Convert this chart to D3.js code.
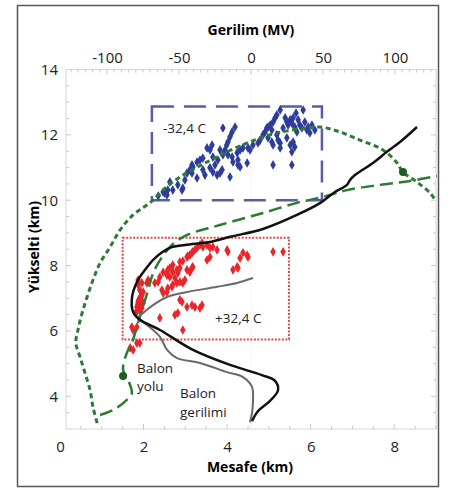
<!DOCTYPE html>
<html>
<head>
<meta charset="utf-8">
<script src="https://cdn.jsdelivr.net/npm/d3@7"></script>
<style>
  body { margin: 0; background: #fff; }
  text { font-family: "Open Sans", "Noto Sans", sans-serif; }
</style>
</head>
<body>
<div id="main"></div>
<script>
const ctx = {
    w: 457,
    h: 488,
    plot: { left: 66, right: 436, top: 69.5, bottom: 429 },
};

// tick labels
const mesafeTicks = [0, 2, 4, 6, 8];
const gerilimTicks = [-100, -50, 0, 50, 100];
const yukseltiTicks = [4, 6, 8, 10, 12, 14];

// blue sources (-32,4 C), km
const blueX = [2.51, 2.58, 2.56, 2.47, 2.35, 2.63, 2.70, 2.92, 2.94, 3.04, 3.11, 3.18, 3.16, 3.16, 3.28, 3.28, 3.35, 3.42, 3.42, 3.52,
    3.59, 3.64, 3.59, 3.66, 3.76, 3.83, 3.71, 3.88, 3.78, 3.90, 3.95, 3.99, 4.02, 4.07, 4.12, 3.90, 4.19, 4.02, 4.12, 4.24,
    4.31, 4.38, 4.07, 4.14, 4.26, 4.26, 4.31, 4.48, 4.50, 4.55, 4.62, 4.74, 4.79, 4.91, 4.95, 4.98, 5.03, 5.07, 5.10, 5.15,
    4.98, 5.07, 5.10, 5.19, 5.22, 5.27, 5.27, 5.10, 5.55, 5.19, 5.27, 5.34, 5.43, 5.46, 5.51, 5.55, 5.58, 5.62, 5.67, 5.70,
    5.74, 5.79, 5.82, 5.86, 5.91, 5.98, 5.94, 5.43, 5.51, 5.55, 5.58, 5.62, 3.66, 3.83, 3.47, 2.99, 2.82, 4.86, 5.39, 5.65,
    6.03, 6.10];
const blueY = [10.22, 10.31, 10.16, 10.25, 10.13, 10.56, 10.31, 10.31, 10.37, 10.83, 10.93, 11.02, 11.08, 10.83, 10.68, 11.17, 11.23, 11.29, 10.93, 11.60,
    11.54, 11.69, 10.99, 10.86, 10.77, 10.83, 11.08, 10.93, 11.23, 11.39, 11.54, 11.69, 11.78, 11.94, 12.09, 12.21, 12.24, 11.39, 11.32, 11.45,
    11.54, 11.60, 10.71, 11.17, 11.23, 11.08, 11.02, 11.14, 11.60, 11.54, 11.69, 11.75, 11.84, 12.09, 12.21, 12.24, 12.30, 12.15, 12.39, 12.52,
    11.91, 11.78, 11.69, 12.00, 11.84, 11.75, 11.60, 11.08, 11.08, 12.61, 12.76, 12.21, 12.39, 12.30, 12.46, 12.36, 12.52, 12.24, 12.09, 12.46,
    12.30, 12.21, 12.76, 12.39, 12.15, 12.06, 12.24, 11.91, 11.69, 11.48, 11.78, 11.63, 11.32, 11.54, 10.77, 10.62, 10.47, 12.00, 12.52, 12.67,
    12.30, 12.15];

// red sources (+32,4 C), km
const redX = [1.87, 1.91, 1.96, 1.91, 1.84, 1.89, 1.94, 1.82, 1.99, 1.87, 1.91, 1.96, 1.99, 2.08, 2.11, 2.27, 2.35, 2.39, 2.47,
    2.56, 2.58, 2.63, 2.68, 2.70, 2.44, 2.47, 2.56, 2.58, 2.68, 2.70, 2.80, 2.87, 2.94, 2.99, 2.56, 2.63, 2.70, 2.80, 2.87,
    2.75, 2.82, 2.87, 2.94, 3.04, 3.06, 3.11, 3.16, 3.18, 3.23, 3.28, 3.35, 3.40, 3.42, 3.52, 3.59, 3.66, 3.76, 3.04, 3.11,
    3.16, 3.18, 3.52, 3.59, 4.00, 4.02, 4.14, 4.24, 4.26, 4.31, 4.38, 4.48, 4.50, 5.10, 5.34, 2.87, 2.92, 3.04, 3.16, 3.23,
    3.35, 3.40, 2.39, 2.75, 2.82, 2.94, 1.75, 1.72, 1.84, 1.91, 1.75, 1.68, 1.84, 1.87, 1.96,
    1.86, 1.93, 1.89, 1.95, 1.85, 1.90, 1.97, 1.88];
const redY = [6.89, 6.79, 6.70, 6.64, 6.73, 6.95, 7.04, 6.58, 6.86, 7.41, 7.25, 7.10, 7.19, 7.47, 7.56, 7.47, 7.50, 7.65, 7.80,
    7.77, 7.87, 7.93, 7.96, 8.02, 7.25, 7.16, 7.19, 7.31, 7.35, 7.41, 7.47, 7.50, 7.47, 7.56, 7.71, 7.65, 7.80, 7.87, 7.93,
    7.62, 7.77, 8.11, 8.14, 8.26, 8.29, 8.32, 8.39, 8.42, 8.48, 8.54, 8.63, 8.69, 8.57, 8.63, 8.54, 8.57, 8.48, 7.87, 7.80,
    7.93, 7.96, 8.17, 8.26, 8.48, 8.42, 7.87, 7.96, 7.93, 8.23, 8.39, 8.32, 8.26, 8.42, 8.42, 6.95, 6.89, 6.73, 6.79, 6.73,
    6.70, 6.79, 6.40, 6.49, 6.55, 6.03, 6.03, 6.12, 6.12, 5.63, 5.42, 5.48, 5.63, 7.56, 7.47,
    6.82, 6.76, 6.67, 6.92, 6.61, 6.99, 6.83, 6.76];

// black curve: voltage (MV) vs altitude (km)
const blackMV = [115.3, 103.5, 94.4, 84.7, 72.2, 68.8, 66.7, 58.3, 47.9, 31.9, 8.3, -14.6, -28.5, -45.8, -56.3, -66.7,
    -73.6, -79.2, -82.6, -81.9, -77.1, -63.2, -40.3, -14.6, 7.6, 16.7, 18.8, 13.2, 4.9, 0.7];
const blackAlt = [12.24, 11.78, 11.48, 11.14, 10.77, 10.62, 10.47, 10.25, 9.91, 9.55, 9.12, 8.88, 8.72, 8.63, 8.54, 8.23,
    7.87, 7.50, 7.04, 6.58, 6.34, 6.03, 5.42, 4.96, 4.65, 4.47, 4.19, 3.86, 3.55, 3.24];

// grey curve: Balon gerilimi (MV) vs altitude (km)
const balonMV = [1.4, -9.7, -23.6, -44.4, -58.3, -68.1, -75.7, -78.5, -72.2, -63.2, -58.3, -51.4, -35.4, -16.7, -5.6, 0.7, 1.4, 0.7, -0.7];
const balonAlt = [7.62, 7.47, 7.35, 7.19, 7.04, 6.79, 6.52, 6.40, 6.18, 5.82, 5.42, 5.17, 5.02, 4.74, 4.59, 4.29, 3.89, 3.49, 3.21];

// outer short-dashed green curve (km)
const outerX = [0.89, 0.79, 0.72, 0.60, 0.48, 0.38, 0.43, 0.53, 0.65, 0.79, 0.96, 1.20, 1.44, 1.75, 2.15, 2.70, 3.52, 4.31,
    5.10, 5.91, 6.22, 6.63, 7.18, 7.73, 8.07, 8.21, 8.54, 8.86, 8.98];
const outerY = [3.18, 3.67, 4.19, 4.71, 5.20, 5.63, 6.03, 6.55, 7.04, 7.56, 8.08, 8.57, 9.09, 9.55, 9.92, 10.56, 11.17, 11.66,
    12.03, 12.21, 12.24, 12.12, 11.84, 11.54, 11.14, 10.86, 10.56, 10.22, 10.01];

// Balon yolu, long-dashed green (km)
const yoluX = [0.96, 1.27, 1.60, 1.72, 1.63, 1.51, 1.60, 1.72, 1.84, 1.96, 2.11, 2.23, 2.44, 2.68, 3.04, 3.66, 4.07, 4.86,
    5.67, 6.29, 6.87, 7.66, 8.38, 9.02];
const yoluY = [3.43, 3.58, 3.89, 4.10, 4.50, 4.81, 5.33, 5.63, 6.12, 6.64, 7.25, 7.77, 8.26, 8.63, 8.94, 9.18, 9.33, 9.61,
    9.92, 10.10, 10.31, 10.47, 10.59, 10.74];

const dotsX = [1.51, 8.21];
const dotsY = [4.62, 10.86];

// boxes [x0, x1, y0, y1] in km
const blueBox = [2.2, 6.27, 10.0, 12.87];
const redBox = [1.5, 5.48, 5.74, 8.85];

function createViz() {
    const svg = d3.select("#main").append("svg")
        .attr("width", ctx.w)
        .attr("height", ctx.h);
    const p = ctx.plot;

    const x = d3.scaleLinear().domain([0.144, 9]).range([p.left, p.right]);
    const xTop = d3.scaleLinear().domain([-128.5, 128.5]).range([p.left, p.right]);
    const y = d3.scaleLinear().domain([3, 14]).range([p.bottom, p.top]);

    // outer frame
    svg.append("rect")
        .attr("x", 17.5).attr("y", 5.5)
        .attr("width", 421).attr("height", 481)
        .attr("fill", "#fff")
        .attr("stroke", "#555")
        .attr("stroke-width", 1.5);

    // plot frame
    svg.append("rect")
        .attr("x", p.left).attr("y", p.top)
        .attr("width", p.right - p.left).attr("height", p.bottom - p.top)
        .attr("fill", "none")
        .attr("stroke", "#d6d6d6");

    // faint zero line
    svg.append("line")
        .attr("x1", xTop(0)).attr("x2", xTop(0))
        .attr("y1", p.top).attr("y2", p.bottom)
        .attr("stroke", "#ececec")
        .attr("stroke-dasharray", "2,2");

    // minor ticks
    const tk = svg.append("g").attr("stroke", "#c8c8c8");
    d3.range(-125, 129, 5).forEach(v => {
        const len = v % 50 === 0 ? 5 : 3;
        tk.append("line").attr("x1", xTop(v)).attr("x2", xTop(v)).attr("y1", p.top).attr("y2", p.top + len);
    });
    d3.range(0.5, 9.01, 0.5).forEach(v => {
        const len = v % 2 === 0 ? 5 : 3;
        tk.append("line").attr("x1", x(v)).attr("x2", x(v)).attr("y1", p.bottom).attr("y2", p.bottom - len);
    });
    d3.range(3.5, 14, 0.5).forEach(v => {
        const len = v % 2 === 0 ? 5 : 3;
        tk.append("line").attr("x1", p.left).attr("x2", p.left + len).attr("y1", y(v)).attr("y2", y(v));
        tk.append("line").attr("x1", p.right).attr("x2", p.right - len).attr("y1", y(v)).attr("y2", y(v));
    });

    // axes (labels only)
    const styleAxis = g => {
        g.select(".domain").remove();
        g.selectAll("text")
            .style("font-family", "'Open Sans', sans-serif")
            .style("font-size", "15px")
            .attr("fill", "#222");
    };
    svg.append("g")
        .attr("transform", `translate(0, ${p.bottom + 9})`)
        .call(d3.axisBottom(x).tickValues(mesafeTicks).tickSize(0).tickPadding(3))
        .call(styleAxis);
    svg.append("g")
        .attr("transform", "translate(0, 66)")
        .call(d3.axisTop(xTop).tickValues(gerilimTicks).tickSize(0).tickPadding(3).tickFormat(d => String(d)))
        .call(styleAxis);
    svg.append("g")
        .attr("transform", "translate(61, 0)")
        .call(d3.axisLeft(y).tickValues(yukseltiTicks).tickSize(0).tickPadding(3))
        .call(styleAxis);

    // axis titles
    svg.append("text")
        .attr("x", 251).attr("y", 35)
        .attr("text-anchor", "middle")
        .style("font-size", "14px").style("font-weight", "bold")
        .text("Gerilim (MV)");
    svg.append("text")
        .attr("x", 250).attr("y", 472)
        .attr("text-anchor", "middle")
        .style("font-size", "14px").style("font-weight", "bold")
        .text("Mesafe (km)");
    svg.append("text")
        .attr("transform", "translate(39, 247) rotate(-90)")
        .attr("text-anchor", "middle")
        .style("font-size", "14px").style("font-weight", "bold")
        .text("Yükselti (km)");

    // boxes
    svg.append("rect")
        .attr("x", x(blueBox[0])).attr("y", y(blueBox[3]))
        .attr("width", x(blueBox[1]) - x(blueBox[0])).attr("height", y(blueBox[2]) - y(blueBox[3]))
        .attr("fill", "none")
        .attr("stroke", "#5a5ca8")
        .attr("stroke-width", 2.5)
        .attr("stroke-dasharray", "22,10");
    svg.append("rect")
        .attr("x", x(redBox[0])).attr("y", y(redBox[3]))
        .attr("width", x(redBox[1]) - x(redBox[0])).attr("height", y(redBox[2]) - y(redBox[3]))
        .attr("fill", "none")
        .attr("stroke", "#dd4a4a")
        .attr("stroke-width", 2)
        .attr("stroke-dasharray", "2,1.5");

    // scatter
    const diamond = d3.symbol().type(d3.symbolDiamond).size(27);
    svg.append("g").selectAll("path")
        .data(d3.zip(blueX, blueY))
        .enter().append("path")
        .attr("d", diamond)
        .attr("transform", d => `translate(${x(d[0])},${y(d[1])})`)
        .attr("fill", "#2e3d9c");
    svg.append("g").selectAll("path")
        .data(d3.zip(redX, redY))
        .enter().append("path")
        .attr("d", diamond)
        .attr("transform", d => `translate(${x(d[0])},${y(d[1])})`)
        .attr("fill", "#e8262b");

    // green curves
    const kmLine = d3.line().x(d => x(d[0])).y(d => y(d[1])).curve(d3.curveCatmullRom);
    svg.append("path")
        .datum(d3.zip(outerX, outerY))
        .attr("d", kmLine)
        .attr("fill", "none")
        .attr("stroke", "#2c7a33")
        .attr("stroke-width", 3)
        .attr("stroke-dasharray", "5,3.5");
    svg.append("path")
        .datum(d3.zip(yoluX, yoluY))
        .attr("d", kmLine)
        .attr("fill", "none")
        .attr("stroke", "#2c7a33")
        .attr("stroke-width", 2.5)
        .attr("stroke-dasharray", "13,6");
    svg.append("g").selectAll("circle")
        .data(d3.zip(dotsX, dotsY))
        .enter().append("circle")
        .attr("cx", d => x(d[0]))
        .attr("cy", d => y(d[1]))
        .attr("r", 4)
        .attr("fill", "#1d5c22");

    // voltage curves (top axis)
    const mvLine = d3.line().x(d => xTop(d[0])).y(d => y(d[1])).curve(d3.curveCatmullRom);
    svg.append("path")
        .datum(d3.zip(balonMV, balonAlt))
        .attr("d", mvLine)
        .attr("fill", "none")
        .attr("stroke", "#6a6a6a")
        .attr("stroke-width", 2);
    svg.append("path")
        .datum(d3.zip(blackMV, blackAlt))
        .attr("d", mvLine)
        .attr("fill", "none")
        .attr("stroke", "#111")
        .attr("stroke-width", 2.5);

    // annotations
    const note = (tx, ty, s) => svg.append("text")
        .attr("x", tx).attr("y", ty)
        .style("font-size", "13.5px")
        .attr("fill", "#222")
        .text(s);
    note(163, 133, "-32,4 C");
    note(215, 323, "+32,4 C");
    note(137, 373, "Balon");
    note(137, 391, "yolu");
    note(180, 398, "Balon");
    note(180, 417, "gerilimi");
}

createViz();
</script>
</body>
</html>
